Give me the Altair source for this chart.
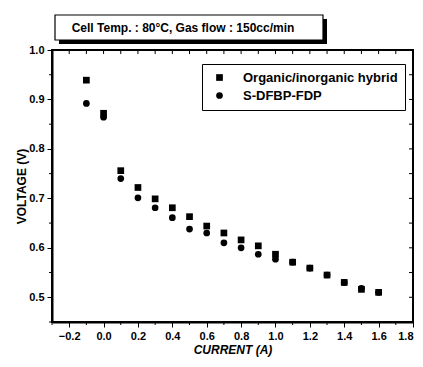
import altair as alt
import pandas as pd

# ---- data ----
current = [-0.1, 0.0, 0.1, 0.2, 0.3, 0.4, 0.5, 0.6, 0.7, 0.8, 0.9, 1.0, 1.1, 1.2, 1.3, 1.4, 1.5, 1.6]
hybrid = [0.939, 0.872, 0.756, 0.722, 0.699, 0.681, 0.663, 0.644, 0.630, 0.616, 0.604, 0.587,
          0.571, 0.559, 0.545, 0.530, 0.516, 0.510]
sdfbp = [0.892, 0.864, 0.740, 0.701, 0.681, 0.661, 0.638, 0.630, 0.610, 0.600, 0.587, 0.577,
         0.571, 0.559, 0.545, 0.530, 0.518, 0.510]
series_names = ["Organic/inorganic hybrid", "S-DFBP-FDP"]
x_major_ticks = [-0.2, 0.0, 0.2, 0.4, 0.6, 0.8, 1.0, 1.2, 1.4, 1.6, 1.8]
x_minor_ticks = [-0.3, -0.1, 0.1, 0.3, 0.5, 0.7, 0.9, 1.1, 1.3, 1.5, 1.7]
y_major_ticks = [0.5, 0.6, 0.7, 0.8, 0.9, 1.0]
y_minor_ticks = [0.45, 0.55, 0.65, 0.75, 0.85, 0.95]
title_text = "Cell Temp. : 80°C, Gas flow : 150cc/min"

rows = []
for c, v in zip(current, sdfbp):
    rows.append({"current": c, "voltage": v, "series": series_names[1]})
for c, v in zip(current, hybrid):
    rows.append({"current": c, "voltage": v, "series": series_names[0]})
df = pd.DataFrame(rows)

FONT = "Liberation Sans"
W, H = 361, 272

xscale = alt.Scale(domain=[-0.3, 1.8], nice=False, zero=False)
yscale = alt.Scale(domain=[0.45, 1.0], nice=False, zero=False)
x_axis = alt.Axis(values=x_major_ticks, title="CURRENT (A)", format=".1f",
                  tickSize=5, grid=False, titleFontStyle="italic", titlePadding=3)
y_axis = alt.Axis(values=y_major_ticks, title="VOLTAGE (V)", format=".1f",
                  tickSize=5, grid=False, titlePadding=0)

points = alt.Chart(df).mark_point(filled=True, opacity=1, color="black", size=45).encode(
    x=alt.X("current:Q", scale=xscale, axis=x_axis),
    y=alt.Y("voltage:Q", scale=yscale, axis=y_axis),
    shape=alt.Shape("series:N", sort=series_names,
                    scale=alt.Scale(domain=series_names, range=["square", "circle"]),
                    legend=alt.Legend(title=None, orient="none", legendX=150, legendY=14,
                                      strokeColor="black", fillColor="white", padding=7,
                                      rowPadding=4, symbolOffset=4, labelOffset=17,
                                      symbolFillColor="black", symbolStrokeColor="black",
                                      symbolSize=45, labelFont=FONT, labelFontSize=13,
                                      labelFontWeight="bold", labelColor="black")),
)

xt_all = pd.DataFrame({"current": x_major_ticks + x_minor_ticks})
yt_all = pd.DataFrame({"voltage": y_major_ticks + y_minor_ticks})
xt_min = pd.DataFrame({"current": x_minor_ticks})
yt_min = pd.DataFrame({"voltage": y_minor_ticks})

# inward ticks on top and right
top_ticks = alt.Chart(xt_all).mark_rule(color="black", strokeWidth=1).encode(
    x=alt.X("current:Q", scale=xscale, axis=x_axis), y=alt.value(0), y2=alt.value(4))
right_ticks = alt.Chart(yt_all).mark_rule(color="black", strokeWidth=1).encode(
    y=alt.Y("voltage:Q", scale=yscale, axis=y_axis), x=alt.value(W), x2=alt.value(W - 4))
# short outward minor ticks on bottom and left
bot_minor = alt.Chart(xt_min).mark_rule(color="black", strokeWidth=1).encode(
    x=alt.X("current:Q", scale=xscale, axis=x_axis), y=alt.value(H), y2=alt.value(H + 3))
left_minor = alt.Chart(yt_min).mark_rule(color="black", strokeWidth=1).encode(
    y=alt.Y("voltage:Q", scale=yscale, axis=y_axis), x=alt.value(0), x2=alt.value(-3))

# plot frame
fdf = pd.DataFrame({"f": [0]})
frame = alt.Chart(fdf).mark_rect(fill=None, fillOpacity=0, stroke="black", strokeWidth=2).encode(
    x=alt.value(0), x2=alt.value(W), y=alt.value(0), y2=alt.value(H))

# title box with shadow
tdf = pd.DataFrame({"t": [title_text]})
shadow = alt.Chart(tdf).mark_rect(color="black").encode(
    x=alt.value(7), x2=alt.value(275), y=alt.value(-31), y2=alt.value(-6))
box = alt.Chart(tdf).mark_rect(fill="white", stroke="black", strokeWidth=1.2).encode(
    x=alt.value(3), x2=alt.value(271), y=alt.value(-35), y2=alt.value(-10))
ttext = alt.Chart(tdf).mark_text(
    font=FONT, fontSize=12, fontWeight="bold", color="black", align="center",
    baseline="middle").encode(text="t:N", x=alt.value(131), y=alt.value(-22))

chart = alt.layer(frame, points, top_ticks, right_ticks, bot_minor, left_minor,
                  shadow, box, ttext).properties(
    width=W, height=H,
    background="white",
    autosize=alt.AutoSizeParams(type="none"),
    padding={"left": 44, "top": 42, "right": 2, "bottom": 37},
).configure_view(stroke="black", strokeWidth=2).configure_axis(
    domainColor="black", domainWidth=2, tickColor="black", tickWidth=1,
    labelFont=FONT, labelFontSize=11, labelFontWeight="bold", labelColor="black",
    titleFont=FONT, titleFontSize=12, titleFontWeight="bold", titleColor="black",
    labelPadding=3,
)

chart.save("out.html", embed_options={"renderer": "svg", "actions": False})
